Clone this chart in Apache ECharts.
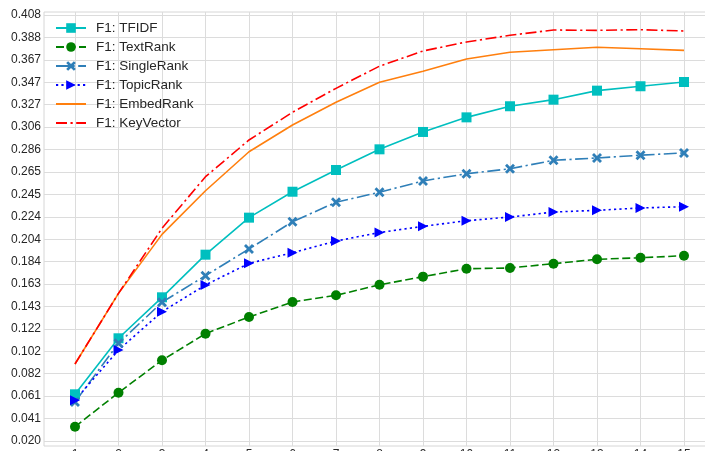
<!DOCTYPE html>
<html>
<head>
<meta charset="utf-8">
<script src="https://cdn.jsdelivr.net/npm/echarts@6/dist/echarts.min.js"></script>
<style>html,body{margin:0;padding:0;background:#fff;}#c{width:705px;height:451px;}</style>
</head>
<body>
<div id="c"></div>
<script>
const topK = [1,2,3,4,5,6,7,8,9,10,11,12,13,14,15];
const yTicks = [1,2,3,4,5,6,7,8,9,10,11,12,13,14,15,16,17,18,19,20].map(k => k / 49);

const tfidf      = [0.0629,0.1139,0.1512,0.1900,0.2237,0.2473,0.2671,0.2859,0.3017,0.3150,0.3251,0.3311,0.3393,0.3433,0.3472];
const textRank   = [0.0334,0.0644,0.0939,0.1181,0.1333,0.1469,0.1530,0.1626,0.1700,0.1772,0.1779,0.1818,0.1858,0.1872,0.1891];
const singleRank = [0.0560,0.1093,0.1467,0.1709,0.1952,0.2200,0.2377,0.2468,0.2571,0.2637,0.2682,0.2759,0.2780,0.2806,0.2826];
const topicRank  = [0.0575,0.1032,0.1381,0.1624,0.1821,0.1918,0.2024,0.2102,0.2158,0.2209,0.2243,0.2288,0.2304,0.2325,0.2337];
const embedRank  = [0.0905,0.1548,0.2085,0.2482,0.2837,0.3080,0.3287,0.3469,0.3569,0.3681,0.3742,0.3766,0.3788,0.3775,0.3760];
const keyVector  = [0.0905,0.1548,0.2140,0.2610,0.2944,0.3196,0.3414,0.3616,0.3754,0.3836,0.3897,0.3945,0.3942,0.3948,0.3936];

const names = ['F1: TFIDF','F1: TextRank','F1: SingleRank','F1: TopicRank','F1: EmbedRank','F1: KeyVector'];

const pair = arr => arr.map((v, i) => [topK[i], v]);
const FONT = "'Liberation Sans', Arial, sans-serif";
const X_SYM = 'path://M2,0 L5,3 L8,0 L10,2 L7,5 L10,8 L8,10 L5,7 L2,10 L0,8 L3,5 L0,2 Z';
const TRI_R = 'path://M0,0 L10,5 L0,10 Z';

function mk(name, data, color, type, symbol, size) {
  return {
    name: name, type: 'line', data: pair(data),
    symbol: symbol || 'circle', symbolSize: size || 0, showSymbol: !!symbol,
    lineStyle: { color: color, width: 1.6, type: type, cap: 'butt' },
    itemStyle: { color: color, borderWidth: 0, opacity: symbol ? 1 : 0 },
    emphasis: { disabled: true }, animation: false
  };
}

const chart = echarts.init(document.getElementById('c'), null, { renderer: 'canvas' });
chart.setOption({
  backgroundColor: '#fff',
  animation: false,
  grid: { left: 44, top: 12, right: -10, bottom: 5, outerBoundsMode: 'none', containLabel: false,
          show: true, borderColor: '#d6d6d6', borderWidth: 1, backgroundColor: '#fff' },
  legend: {
    left: 50, top: 16, orient: 'vertical',
    itemWidth: 30, itemHeight: 12, itemGap: 5,
    textStyle: { fontFamily: FONT, fontSize: 13.5, color: '#262626', padding: [0,0,0,5] },
    data: names
  },
  xAxis: {
    type: 'value', min: 0.2874, max: 15.7126,
    axisLine: { show: false },
    axisTick: { show: false, customValues: topK },
    axisLabel: { customValues: topK, margin: 3, fontFamily: FONT, fontSize: 12, color: '#262626' },
    splitLine: { show: true, lineStyle: { color: '#dcdcdc', width: 1 } }
  },
  yAxis: {
    type: 'value', min: 0.015857, max: 0.410894,
    axisLine: { show: false },
    axisTick: { show: false, customValues: yTicks },
    axisLabel: { customValues: yTicks, margin: 3, fontFamily: FONT, fontSize: 12, color: '#262626',
                 formatter: v => v.toFixed(3) },
    splitLine: { show: true, lineStyle: { color: '#dcdcdc', width: 1 } }
  },
  series: [
    mk(names[0], tfidf, '#00bfbf', 'solid', 'rect', 10),
    mk(names[1], textRank, '#008000', [8, 3.5], 'circle', 10),
    mk(names[2], singleRank, '#2f7fb8', [13, 3.5, 2.2, 3.5], X_SYM, 10),
    mk(names[3], topicRank, '#0000ff', [2.2, 3.2], TRI_R, 10),
    mk(names[4], embedRank, '#ff7f0e', 'solid', null),
    mk(names[5], keyVector, '#ff0000', [11, 3.5, 2.2, 3.5], null)
  ]
});
</script>
</body>
</html>
